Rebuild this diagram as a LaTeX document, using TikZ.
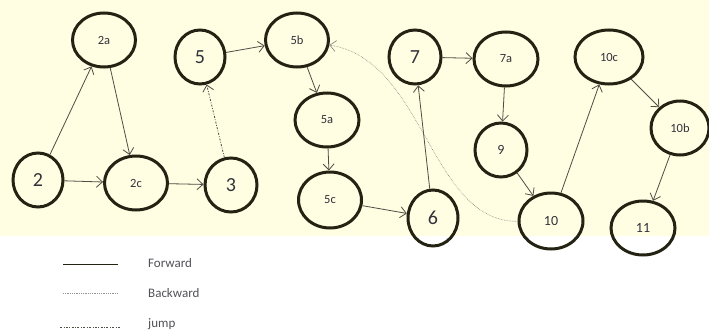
\documentclass[tikz,border=0pt]{standalone}
\usepackage{fontspec}
\setmainfont{Carlito}
\usetikzlibrary{shapes.geometric, arrows.meta, backgrounds}
\definecolor{ringColor}{RGB}{36,34,18}
\definecolor{lineColor}{RGB}{78,78,68}
\definecolor{textColor}{RGB}{50,50,58}
\definecolor{paperColor}{RGB}{255,253,226}
\tikzset{stateNode/.style={shape=ellipse, draw=ringColor, line width=3pt, inner sep=0pt, text=textColor, minimum width=52pt, minimum height=54pt, font=\fontsize{20}{20}\selectfont}}
\tikzset{ovalNode/.style={stateNode, minimum width=63pt, font=\fontsize{12.5}{12.5}\selectfont}}
\tikzset{midNode/.style={stateNode, font=\fontsize{14}{14}\selectfont}}
\tikzset{forwardEdge/.style={draw=lineColor, line width=0.8pt, -{Straight Barb[length=6pt,width=11pt]}}}
\tikzset{backwardEdge/.style={draw=lineColor!70, line width=0.6pt, densely dotted, -{Straight Barb[length=6pt,width=11pt]}}}
\tikzset{jumpEdge/.style={draw=lineColor, line width=0.8pt, dash pattern=on 2pt off 1.5pt on 0.8pt off 1.5pt, -{Straight Barb[length=6pt,width=11pt]}}}
\tikzset{legendText/.style={anchor=west, inner sep=0pt, text=textColor!85, font=\fontsize{13}{13}\selectfont}}

\begin{document}
\begin{tikzpicture}[x=1pt, y=-1pt]

\useasboundingbox (0,0) rectangle (709,332);
\begin{scope}[on background layer]
  \fill[paperColor] (0,0) rectangle (709,236);
\end{scope}

% States
\node[stateNode, minimum width=50pt] (2) at (38,180) {2};
\node[ovalNode] (2a) at (104,40) {2a};
\node[ovalNode] (2c) at (136,183) {2c};
\node[stateNode] (3) at (231,185) {3};
\node[stateNode, minimum width=50pt] (5) at (200,57) {5};
\node[ovalNode] (5b) at (297,40) {5b};
\node[ovalNode, minimum width=64pt] (5a) at (327,120) {5a};
\node[ovalNode, minimum height=56pt] (5c) at (330,200) {5c};
\node[stateNode, minimum width=50pt, minimum height=56pt] (6) at (433,218) {6};
\node[stateNode] (7) at (415,57) {7};
\node[ovalNode, minimum width=64pt] (7a) at (506,59) {7a};
\node[midNode] (9) at (501,150) {9};
\node[midNode, minimum width=64pt, minimum height=56pt] (10) at (551,221) {10};
\node[ovalNode, minimum width=68pt] (10c) at (609,57) {10c};
\node[ovalNode, minimum width=58pt] (10b) at (680,128) {10b};
\node[midNode, minimum width=64pt] (11) at (643,228) {11};

% Forward moves
\draw[forwardEdge] (2) -- (2a);
\draw[forwardEdge] (2a) -- (2c);
\draw[forwardEdge] (2) -- (2c);
\draw[forwardEdge] (2c) -- (3);
\draw[forwardEdge] (5) -- (5b);
\draw[forwardEdge] (5b) -- (5a);
\draw[forwardEdge] (5a) -- (5c);
\draw[forwardEdge] (5c) -- (6);
\draw[forwardEdge] (6) -- (7);
\draw[forwardEdge] (7) -- (7a);
\draw[forwardEdge] (7a) -- (9);
\draw[forwardEdge] (9) -- (10);
\draw[forwardEdge] (10) -- (10c);
\draw[forwardEdge] (10c) -- (10b);
\draw[forwardEdge] (10b) -- (11);

% Jump and backward
\draw[jumpEdge] (3) -- (5);
\draw[backwardEdge] (10) .. controls (430,222) and (425,60) .. (5b);

% Legend
\coordinate (fwdA) at (63,264);
\coordinate (fwdB) at (118,264);
\coordinate (bwdA) at (63,293);
\coordinate (bwdB) at (118,293);
\coordinate (jmpA) at (60,327);
\coordinate (jmpB) at (121,327);
\draw[draw=ringColor, line width=0.8pt] (fwdA) -- (fwdB);
\draw[draw=lineColor!60, line width=0.8pt, densely dotted] (bwdA) -- (bwdB);
\draw[draw=lineColor, line width=0.8pt, dash pattern=on 2pt off 1.5pt on 0.8pt off 1.5pt] (jmpA) -- (jmpB);
\node[legendText] (fwdText) at (148,263) {Forward};
\node[legendText] (bwdText) at (148,293) {Backward};
\node[legendText] (jmpText) at (148,324) {jump};

\end{tikzpicture}
\end{document}
